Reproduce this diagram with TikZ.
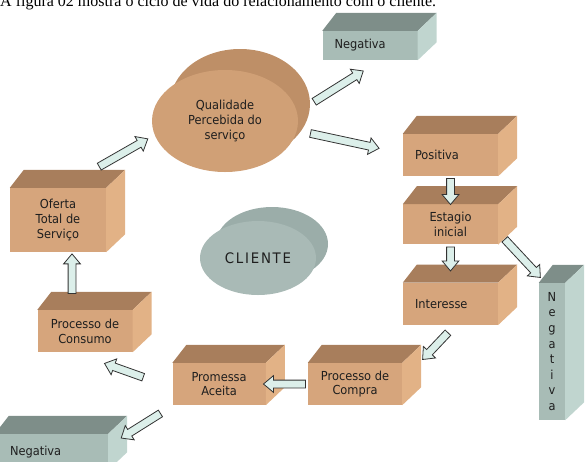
\documentclass[tikz,border=0pt]{standalone}
\usepackage{fontspec}
\setmainfont{DejaVu Sans}[FakeStretch=0.92]
\newfontfamily\headfont{Liberation Serif}
\usetikzlibrary{positioning, calc, shapes.geometric, shapes.arrows}
\definecolor{colFront}{RGB}{214,165,124}
\definecolor{colTop}  {RGB}{168,126,92}
\definecolor{colSide} {RGB}{226,178,134}
\definecolor{colNegF} {RGB}{168,188,182}
\definecolor{colNegT} {RGB}{126,142,137}
\definecolor{colNegS} {RGB}{192,213,207}
\definecolor{colQual} {RGB}{208,160,118}
\definecolor{colQualB}{RGB}{190,143,103}
\definecolor{colCli}  {RGB}{169,186,182}
\definecolor{colCliB} {RGB}{155,173,169}
\definecolor{colArr}  {RGB}{220,239,234}
\definecolor{colTxt}  {RGB}{30,30,30}
\newcommand\boxfont{\fontsize{12.4}{14.8}\selectfont}
\tikzset{
  box/.style    = {fill=colFront, text=colTxt, font=\boxfont, align=center,
                   inner sep=2pt, minimum width=95pt, minimum height=42pt},
  boxl/.style   = {box, align=left, text width=71pt, inner xsep=12pt},
  negbox/.style = {boxl, fill=colNegF},
  barrow/.style = {single arrow, fill=colArr, draw=black!80, line width=0.8pt,
                   inner sep=3.5pt, single arrow head extend=4.5pt,
                   single arrow tip angle=80, minimum width=0pt},
}
% top and right faces of a box
\newcommand\boxfaces[3]{%
  \fill[#2] (#1.north west) -- ++(14pt,18pt) -- ([shift={(19pt,18pt)}]#1.north east)
            -- (#1.north east) -- cycle;
  \fill[#3] (#1.north east) -- ++(19pt,18pt) -- ([shift={(19pt,18pt)}]#1.south east)
            -- (#1.south east) -- cycle;}
% block arrow from #1 to #2
\newcommand\blockarrow[2]{%
  \path let \p1=#1, \p2=#2,
            \n1={atan2(\y2-\y1,\x2-\x1)}, \n2={veclen(\x2-\x1,\y2-\y1)}
        in node[barrow, rotate=\n1, minimum height=\n2] at ($(\p1)!0.5!(\p2)$) {};}

\begin{document}
\begin{tikzpicture}[x=1pt, y=-1pt]
\useasboundingbox (0,0) rectangle (588,461);
\clip (0,0) rectangle (588,461);

%% -- caption line (cut at the top) ------------------------------------------
\node[font=\headfont\fontsize{16}{16}\selectfont, anchor=base west, inner sep=0pt]
  (caption) at (0,6) {A figura 02 mostra o ciclo de vida do relacionamento com o cliente.};

%% -- ellipses ----------------------------------------------------------------
\fill[colQualB] (240,104) ellipse [x radius=70, y radius=55];
\node[ellipse, fill=colQual, text=colTxt, font=\boxfont, align=center,
      minimum width=146pt, minimum height=102pt] (qual) at (225,121)
  {Qualidade\\Percebida do\\serviço};

\fill[colCliB] (272,244) ellipse [x radius=56, y radius=37];
\node[ellipse, fill=colCli, text=colTxt, align=center,
      font=\fontsize{14.5}{14.5}\selectfont\addfontfeature{LetterSpace=12},
      minimum width=116pt, minimum height=74pt] (cliente) at (258,258) {CLIENTE};

%% -- boxes -------------------------------------------------------------------
\node[negbox, minimum height=29pt] (negtop) at (370,45.5) {Negativa};
\node[box, minimum width=96pt, minimum height=64pt] (oferta) at (58,220)
  {Oferta\\Total de\\Serviço};
\node[box] (consumo) at (85,331) {Processo de\\Consumo};
\node[boxl] (positiva) at (450.5,155) {Positiva};
\node[box, minimum height=40pt, below=28pt of positiva] (estagio) {Estagio\\inicial};
\node[boxl, below=38pt of estagio] (interesse) {Interesse};
\node[box, fill=colNegF, minimum width=26pt, minimum height=137pt,
      font=\fontsize{12.4}{15.6}\selectfont] (negvert) at (552,351.5)
  {N\\e\\g\\a\\t\\i\\v\\a};
\node[box, minimum width=94pt] (compra) at (355,384) {Processo de\\Compra};
\node[box, minimum width=93pt, left=42pt of compra] (promessa) {Promessa\\Aceita};
\node[negbox, text width=83pt, inner xsep=15pt, minimum height=36pt] (negbot)
  at (51.5,452) {Negativa};

\boxfaces{negtop}{colNegT}{colNegS}
\boxfaces{oferta}{colTop}{colSide}
\boxfaces{consumo}{colTop}{colSide}
\boxfaces{positiva}{colTop}{colSide}
\boxfaces{estagio}{colTop}{colSide}
\boxfaces{interesse}{colTop}{colSide}
\boxfaces{negvert}{colNegT}{colNegS}
\boxfaces{compra}{colTop}{colSide}
\boxfaces{promessa}{colTop}{colSide}
\boxfaces{negbot}{colNegT}{colNegS}

%% -- block arrows ------------------------------------------------------------
\blockarrow{($(oferta.north east)+(-9,-20)$)}{($(qual.west)+(-6,19)$)}
\blockarrow{($(qual.east)+(14,-18)$)}{($(negtop.south west)+(39,12)$)}
\blockarrow{($(qual.east)+(10,12)$)}{($(positiva.north west)+(-26,14)$)}
\blockarrow{(positiva.south)}{($(positiva.south)+(0,26)$)}
\blockarrow{(estagio.south)}{($(estagio.south)+(0,24)$)}
\blockarrow{($(estagio.south east)+(5,-7)$)}{($(negvert.north west)+(0,-7)$)}
\blockarrow{($(interesse.south)+(-1,6)$)}{($(compra.north east)+(22,-5)$)}
\blockarrow{(compra.west)}{(promessa.east)}
\blockarrow{($(promessa.west)+(-27,-6)$)}{($(consumo.south east)+(-26,12)$)}
\blockarrow{($(promessa.south west)+(-10,7)$)}{($(negbot.north east)+(15,3)$)}
\blockarrow{($(consumo.north)+(-13,-14)$)}{($(oferta.south)+(14,4)$)}

\end{tikzpicture}
\end{document}
